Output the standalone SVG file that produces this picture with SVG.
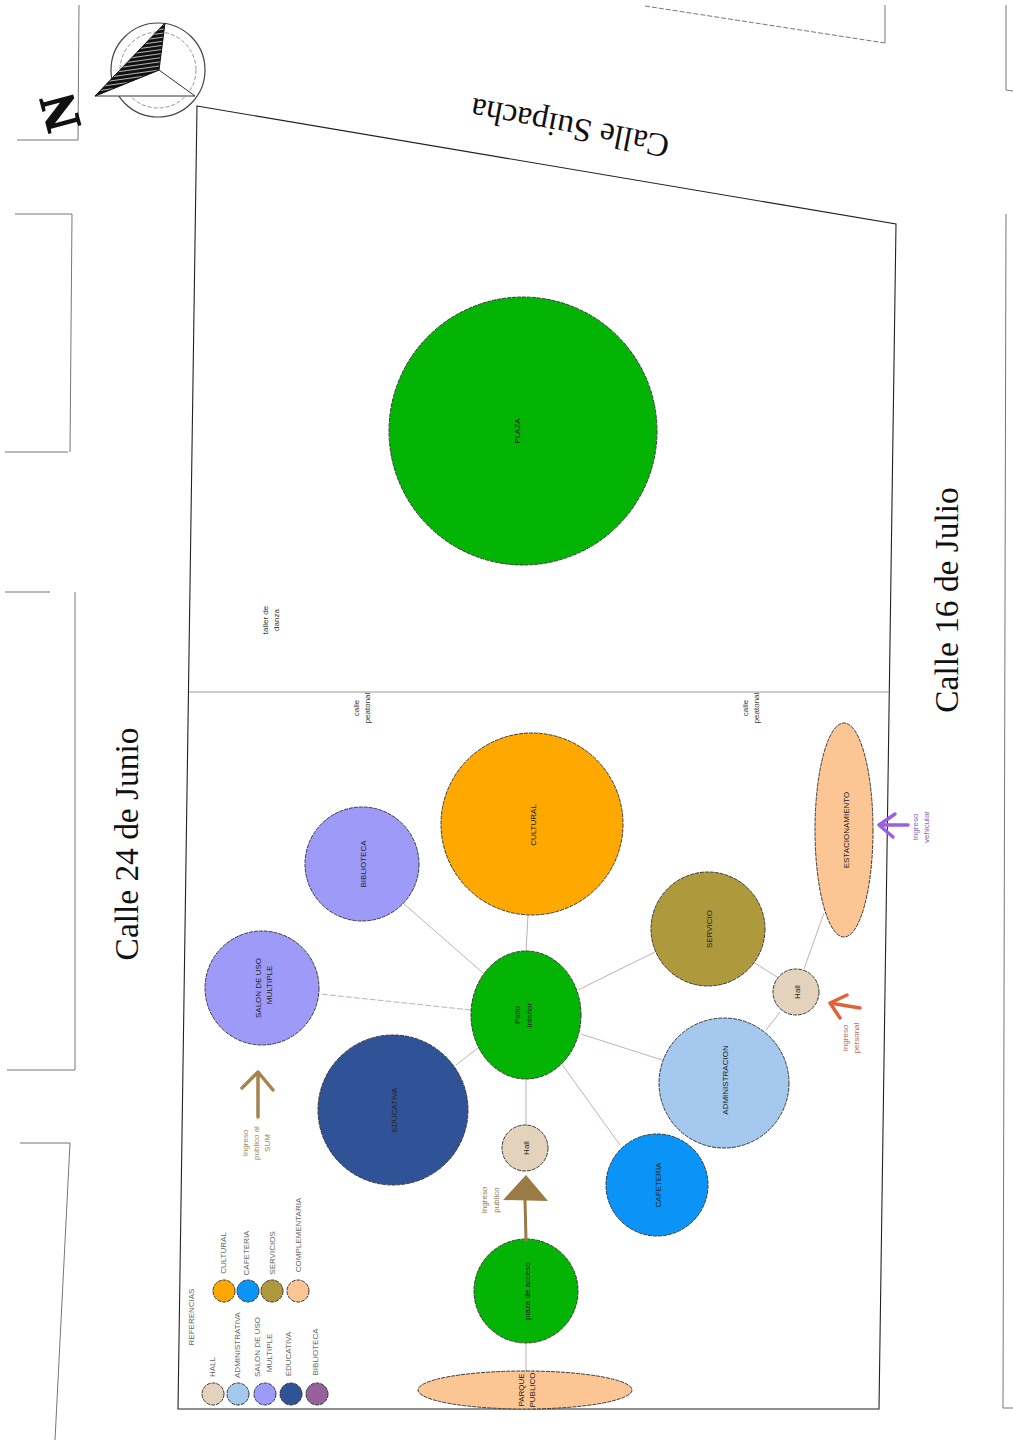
<svg xmlns="http://www.w3.org/2000/svg" width="1013" height="1441" viewBox="0 0 1013 1441">
<style>
text{font-family:"Liberation Sans",Arial,sans-serif;fill:#222;text-anchor:middle}
.s{font-family:"Liberation Serif","Times New Roman",serif;font-size:33.4px;fill:#111}
.n{font-size:8px}
.l{font-size:8px;fill:#666}
.node{stroke:#3a3a3a;stroke-width:1;stroke-dasharray:4 1}
.c{stroke:#b09c9c;stroke-width:.8;fill:none}
.b{stroke:#222;stroke-width:1.1;fill:none}
.f{stroke:#777;stroke-width:1;fill:none}
.ar{fill:none;stroke-linecap:round;stroke-linejoin:round}
</style>
<defs>
<pattern id="hatch" width="6" height="4" patternUnits="userSpaceOnUse" patternTransform="rotate(-8)">
<rect width="6" height="4" fill="#111"/><rect y="3" width="6" height=".8" fill="#ddd"/>
</pattern>
</defs>
<rect width="1013" height="1441" fill="#fff"/>
<g id="context">
<path class="f" d="M79 5L78 140M17 140H78M15 214H72L70 452M5 452H68M5 592H50M75 592V1070H7M20 1143H70L55 1440"/>
<path class="f" stroke-dasharray="5 2" d="M645 6L885 43"/>
<path class="f" d="M885 43V5M1006 5V90L1013 91M1006 214L1003 1408H1013"/>
</g>
<g id="plot">
<path class="b" d="M197 106L896 224L879 1409H178Z"/>
<line x1="189" y1="692" x2="889" y2="692" stroke="#999" stroke-width="1.2"/>
</g>
<g id="compass">
<circle cx="158" cy="70" r="47" fill="#fff" stroke="#444" stroke-width="1.2"/>
<circle cx="158" cy="70" r="38" fill="none" stroke="#777" stroke-width=".8" stroke-dasharray="4 2"/>
<path d="M95 96H195L159 70Z" fill="#fff" stroke="#333"/>
<path d="M165 23L95 96L159 70Z" fill="url(#hatch)" stroke="#111"/>
<text transform="translate(76 108) rotate(-105)" style="font-family:'Liberation Serif',serif;font-weight:bold;font-size:50px;fill:#111;stroke:#111;stroke-width:1.5">N</text>
</g>
<g id="streets">
<text class="s" transform="translate(138 844) rotate(-90)">Calle 24 de Junio</text>
<text class="s" transform="translate(958 600) rotate(-90)">Calle 16 de Julio</text>
<text class="s" transform="translate(572 117) rotate(191)">Calle Suipacha</text>
</g>
<g id="connectors">
<line class="c" x1="526" y1="952" x2="528" y2="915"/>
<line class="c" x1="483" y1="973" x2="403" y2="903"/>
<line class="c" x1="471" y1="1010" x2="320" y2="994" stroke-dasharray="6 2"/>
<line class="c" x1="478" y1="1048" x2="456" y2="1065"/>
<line class="c" x1="578" y1="990" x2="655" y2="952"/>
<line class="c" x1="581" y1="1034" x2="662" y2="1060"/>
<line class="c" x1="561" y1="1063" x2="620" y2="1145"/>
<line class="c" x1="526" y1="1078" x2="526" y2="1125"/>
<line class="c" x1="755" y1="963" x2="777" y2="977"/>
<line class="c" x1="766" y1="1030" x2="780" y2="1012"/>
<line class="c" x1="804" y1="969" x2="824" y2="913"/>
<line class="c" x1="526" y1="1344" x2="526" y2="1371"/>
</g>
<g id="plaza"><circle class="node" cx="523" cy="431" r="134" fill="#04b404"/><text class="n" transform="translate(520 431) rotate(-90)">PLAZA</text></g>
<g id="cultural"><circle class="node" cx="532" cy="824" r="91" fill="#ffa800"/><text class="n" transform="translate(536 825) rotate(-90)">CULTURAL</text></g>
<g id="biblioteca"><circle class="node" cx="362" cy="864" r="57" fill="#9d9bf7"/><text class="n" transform="translate(366 864) rotate(-90)">BIBLIOTECA</text></g>
<g id="sum"><circle class="node" cx="262" cy="988" r="57" fill="#9d9bf7"/><text class="n" transform="translate(261 988) rotate(-90)">SALON DE USO</text><text class="n" transform="translate(272 985) rotate(-90)">MULTIPLE</text></g>
<g id="educativa"><circle class="node" cx="393" cy="1110" r="75" fill="#305297"/><text class="n" transform="translate(397 1110) rotate(-90)">EDUCATIVA</text></g>
<g id="patio"><ellipse class="node" cx="526" cy="1015" rx="55" ry="64" fill="#04b404"/><text class="n" transform="translate(520 1015) rotate(-90)">Patio</text><text class="n" transform="translate(532 1015) rotate(-90)">interior</text></g>
<g id="servicio"><circle class="node" cx="708" cy="929" r="57" fill="#ae9a3c"/><text class="n" transform="translate(712 929) rotate(-90)">SERVICIO</text></g>
<g id="administracion"><ellipse class="node" cx="724" cy="1083" rx="65" ry="65" fill="#a4c8ee"/><text class="n" transform="translate(728 1080) rotate(-90)">ADMINISTRACION</text></g>
<g id="cafeteria"><circle class="node" cx="657" cy="1185" r="51" fill="#0a94f7"/><text class="n" transform="translate(661 1185) rotate(-90)">CAFETERIA</text></g>
<g id="hall1"><circle class="node" cx="525" cy="1148" r="23" fill="#e3d2bc"/><text class="n" transform="translate(529 1148) rotate(-90)">Hall</text></g>
<g id="hall2"><circle class="node" cx="796" cy="992" r="23" fill="#e3d2bc"/><text class="n" transform="translate(800 992) rotate(-90)">Hall</text></g>
<g id="estacionamiento"><ellipse class="node" cx="844" cy="830" rx="29" ry="107" fill="#fcc594"/><text class="n" transform="translate(849 830) rotate(-90)">ESTACIONAMIENTO</text></g>
<g id="plaza-acceso"><circle class="node" cx="526" cy="1291" r="52" fill="#04b404"/><text class="n" transform="translate(530 1291) rotate(-90)">plaza de acceso</text></g>
<g id="parque"><ellipse class="node" cx="525" cy="1390" rx="107" ry="19" fill="#fcc594"/><text class="n" transform="translate(524 1390) rotate(-90)">PARQUE</text><text class="n" transform="translate(535 1390) rotate(-90)">PUBLICO</text></g>
<g id="arrows">
<path class="ar" d="M526 1240L525 1200" stroke="#9a7b45" stroke-width="3"/>
<path d="M526 1175L503 1200L548 1201Z" fill="#9a7b45"/>
<path class="ar" d="M258 1117V1072M242 1088L258 1072L273 1090" stroke="#a8824f" stroke-width="3.5"/>
<path class="ar" d="M860 1008L830 1003M847 995L830 1003L840 1018" stroke="#e0643a" stroke-width="3.5"/>
<path class="ar" d="M908 825H879M895 814L879 825L893 837" stroke="#9a60e0" stroke-width="3.5"/>
</g>
<g id="labels">
<text class="l" transform="translate(487 1200) rotate(-90)" style="fill:#8a7a50">Ingreso</text>
<text class="l" transform="translate(499 1200) rotate(-90)" style="fill:#8a7a50">publico</text>
<text class="l" transform="translate(248 1143) rotate(-90)" style="fill:#9a8a60">Ingreso</text>
<text class="l" transform="translate(259 1143) rotate(-90)" style="fill:#9a8a60">publico al</text>
<text class="l" transform="translate(270 1143) rotate(-90)" style="fill:#9a8a60">SUM</text>
<text class="l" transform="translate(848 1038) rotate(-90)" style="fill:#c06a50">Ingreso</text>
<text class="l" transform="translate(859 1038) rotate(-90)" style="fill:#c06a50">personal</text>
<text class="l" transform="translate(918 827) rotate(-90)" style="fill:#8a60c0">Ingreso</text>
<text class="l" transform="translate(929 827) rotate(-90)" style="fill:#8a60c0">vehicular</text>
<text class="l" transform="translate(268 620) rotate(-90)" style="fill:#333">taller de</text>
<text class="l" transform="translate(279 620) rotate(-90)" style="fill:#333">danza</text>
<text class="l" transform="translate(359 708) rotate(-90)" style="fill:#333">calle</text>
<text class="l" transform="translate(370 708) rotate(-90)" style="fill:#333">peatonal</text>
<text class="l" transform="translate(748 708) rotate(-90)" style="fill:#333">calle</text>
<text class="l" transform="translate(759 708) rotate(-90)" style="fill:#333">peatonal</text>
</g>
<g id="legend">
<text class="l" transform="translate(194 1317) rotate(-90)">REFERENCIAS</text>
<circle class="node" cx="224" cy="1291" r="11" fill="#ffa800"/>
<circle class="node" cx="248" cy="1291" r="11" fill="#0a94f7"/>
<circle class="node" cx="272" cy="1291" r="11" fill="#ae9a3c"/>
<circle class="node" cx="298" cy="1291" r="11" fill="#fcc594"/>
<circle class="node" cx="213" cy="1394" r="11" fill="#e3d2bc"/>
<circle class="node" cx="238" cy="1394" r="11" fill="#a4c8ee"/>
<circle class="node" cx="265" cy="1394" r="11" fill="#9d9bf7"/>
<circle class="node" cx="291" cy="1394" r="11" fill="#305297"/>
<circle class="node" cx="317" cy="1394" r="11" fill="#96609c"/>
<text class="l" transform="translate(226 1253) rotate(-90)">CULTURAL</text>
<text class="l" transform="translate(249 1253) rotate(-90)">CAFETERIA</text>
<text class="l" transform="translate(275 1253) rotate(-90)">SERVICIOS</text>
<text class="l" transform="translate(301 1235) rotate(-90)">COMPLEMENTARIA</text>
<text class="l" transform="translate(215 1367) rotate(-90)">HALL</text>
<text class="l" transform="translate(240 1345) rotate(-90)">ADMINISTRATIVA</text>
<text class="l" transform="translate(260 1347) rotate(-90)">SALON DE USO</text>
<text class="l" transform="translate(272 1353) rotate(-90)">MULTIPLE</text>
<text class="l" transform="translate(291 1354) rotate(-90)">EDUCATIVA</text>
<text class="l" transform="translate(318 1352) rotate(-90)">BIBLIOTECA</text>
</g>
</svg>
